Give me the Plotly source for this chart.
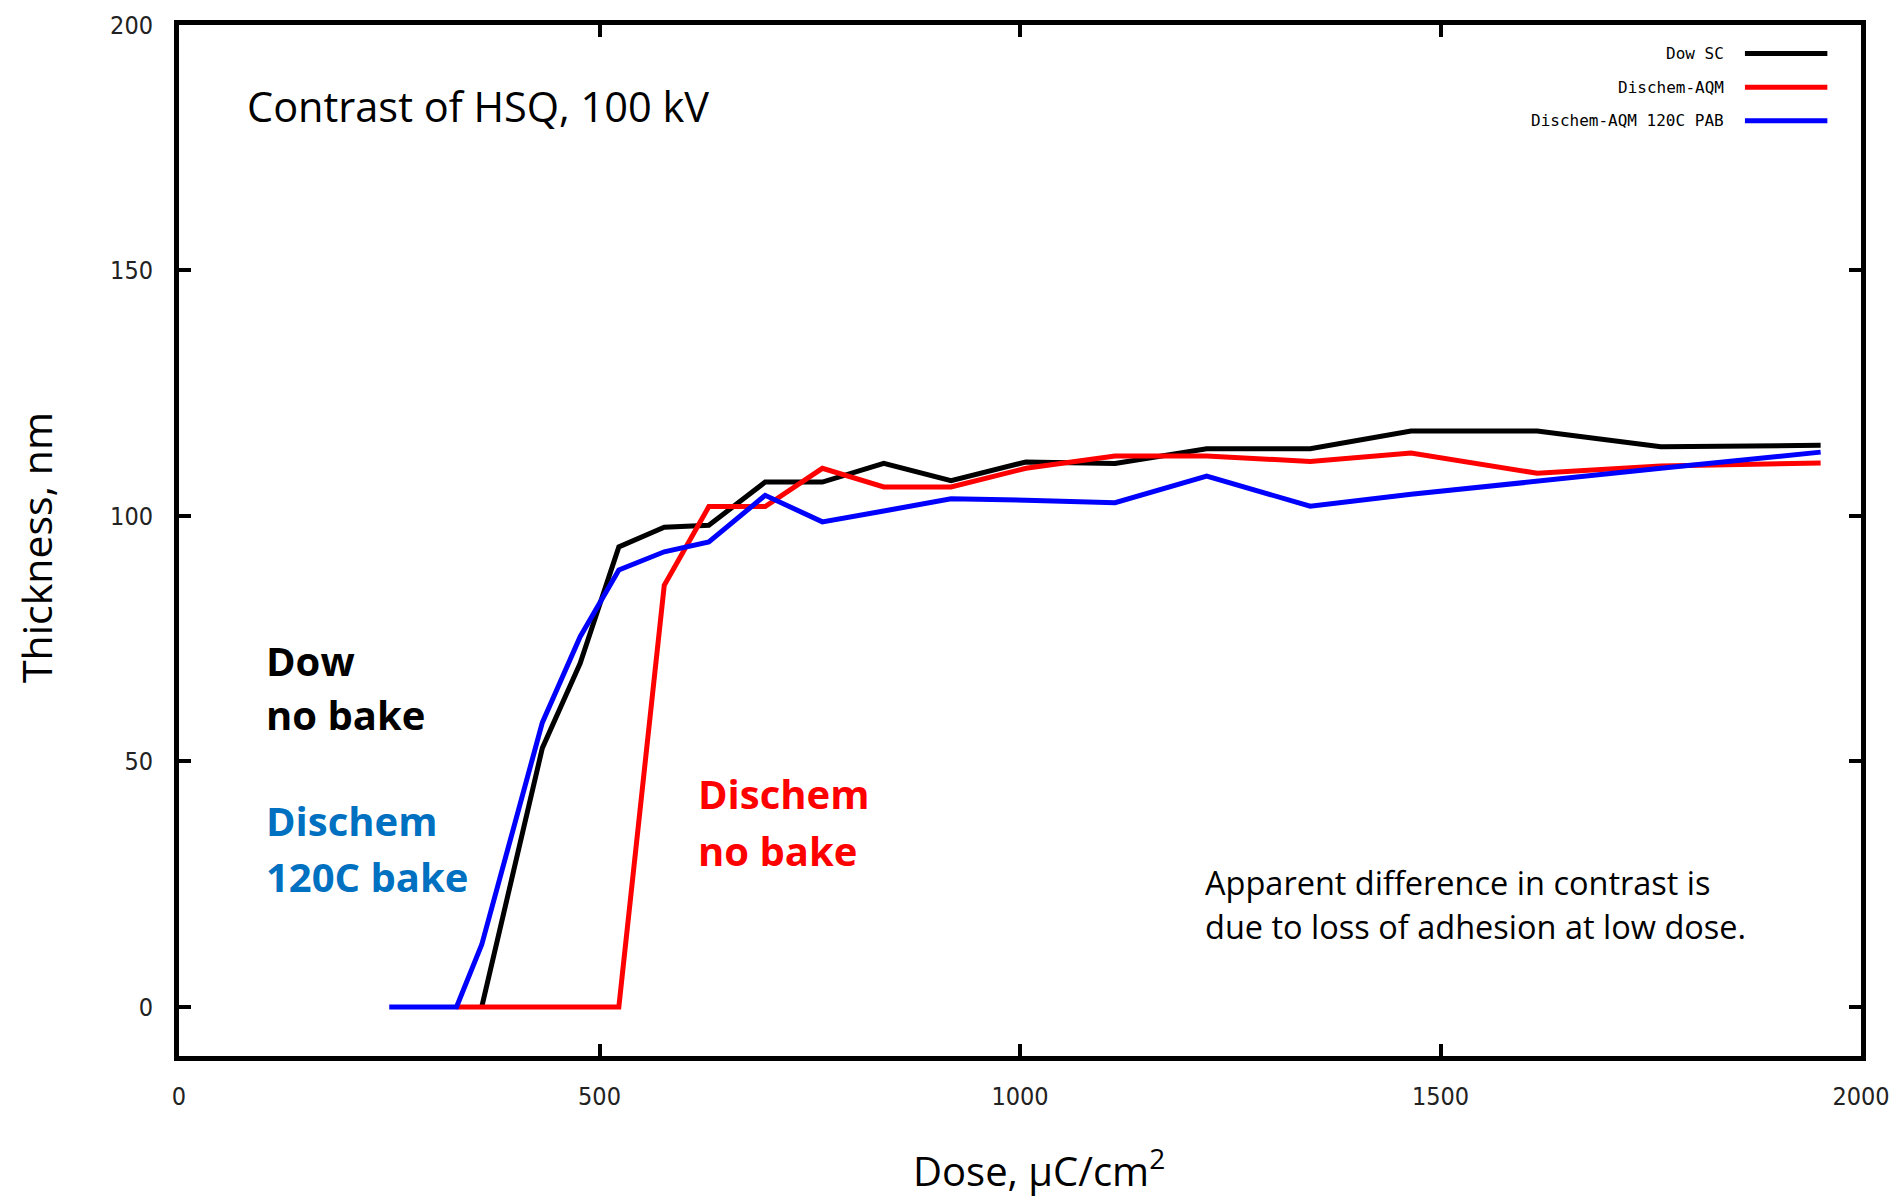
import plotly.graph_objects as go

# ---- data ----
dose_dow = [360, 432, 477, 523, 577, 630, 697, 765, 838, 918, 1007, 1113, 1222, 1345, 1465, 1615, 1762, 1952]
thick_dow = [0, 52.7, 70, 93.7, 97.7, 98.1, 106.9, 106.9, 110.7, 107.2, 111, 110.7, 113.7, 113.7, 117.3, 117.3, 114.1, 114.4]

dose_aqm = [330, 360, 432, 477, 523, 577, 630, 697, 765, 838, 918, 1007, 1113, 1222, 1345, 1465, 1615, 1762, 1952]
thick_aqm = [0, 0, 0, 0, 0, 85.9, 101.9, 101.9, 109.7, 105.9, 105.9, 109.7, 112.2, 112.2, 111.1, 112.8, 108.7, 110.2, 110.8]

dose_pab = [250, 330, 360, 432, 477, 523, 577, 630, 697, 765, 838, 918, 1007, 1113, 1222, 1345, 1465, 1615, 1762, 1952]
thick_pab = [0, 0, 12.7, 57.9, 75.4, 89, 92.7, 94.7, 104.2, 98.8, 101, 103.5, 103.2, 102.7, 108.1, 102, 104.4, 107.2, 109.7, 113]

series_names = ["Dow SC", "Dischem-AQM", "Dischem-AQM 120C PAB"]
series_colors = ["#000000", "#FF0000", "#0000FF"]

x_ticks = [0, 500, 1000, 1500, 2000]
y_ticks = [0, 50, 100, 150, 200]

TICK_FONT = "Liberation Sans Narrow, DejaVu Sans Condensed, Arial Narrow, sans-serif"
TEXT_FONT = "Open Sans, Noto Sans, sans-serif"
MONO_FONT = "DejaVu Sans Mono, Liberation Mono, monospace"

L, R, T, B = 179, 40, 25, 145
W, H = 1901, 1201
PW, PH = W - L - R, H - T - B

fig = go.Figure()
for xs, ys, name, col in zip([dose_dow, dose_aqm, dose_pab],
                             [thick_dow, thick_aqm, thick_pab],
                             series_names, series_colors):
    fig.add_trace(go.Scatter(x=xs, y=ys, mode="lines", name=name,
                             line=dict(color=col, width=5), showlegend=False))

axis_common = dict(
    showline=True, linecolor="black", linewidth=5, mirror="ticks",
    ticks="inside", ticklen=12, tickwidth=4, tickcolor="black",
    showgrid=False, zeroline=False,
    tickfont=dict(family=TICK_FONT, size=25, color="#222222"),
)

fig.update_layout(
    width=W, height=H,
    margin=dict(l=L, r=R, t=T, b=B),
    paper_bgcolor="white", plot_bgcolor="white",
    xaxis=dict(range=[0, 2000], tickvals=x_ticks, ticklabelstandoff=14, **axis_common),
    yaxis=dict(range=[-10, 200], tickvals=y_ticks, ticklabelstandoff=16, **axis_common),
    showlegend=False,
)

# ---- gnuplot-style legend (text on the left, line sample on the right) ----
legend_y = [194.2, 187.3, 180.5]
for name, col, yv in zip(series_names, series_colors, legend_y):
    fig.add_annotation(x=1840, y=yv, xref="x", yref="y", text=name, showarrow=False,
                       xanchor="right", yanchor="middle",
                       font=dict(family=MONO_FONT, size=16, color="black"))
    fig.add_shape(type="line", xref="x", yref="y", x0=1862, x1=1960, y0=yv, y1=yv,
                  line=dict(color=col, width=5))

# ---- text labels ----
def label(x, y, text, size, color="black", bold=False):
    fig.add_annotation(x=x, y=y, xref="x", yref="y", showarrow=False,
                       text=f"<b>{text}</b>" if bold else text,
                       xanchor="left", yanchor="middle",
                       font=dict(family=TEXT_FONT, size=size, color=color))

label(78, 183.5, "Contrast of HSQ, 100 kV", 41.5)
label(101, 70.6, "Dow", 40, bold=True)
label(101, 59.5, "no bake", 40, bold=True)
label(101, 38.0, "Dischem", 40, color="#0070C0", bold=True)
label(101, 26.5, "120C bake", 40, color="#0070C0", bold=True)
label(614.5, 43.4, "Dischem", 40, color="#FF0000", bold=True)
label(614.5, 31.8, "no bake", 40, color="#FF0000", bold=True)
label(1218, 25.3, "Apparent difference in contrast is", 32.5)
label(1218, 16.4, "due to loss of adhesion at low dose.", 32.5)

# axis titles
fig.add_annotation(x=(1039 - L) / PW, y=-(1168 - (H - B)) / PH, xref="paper", yref="paper",
                   xanchor="center", yanchor="middle", showarrow=False,
                   text="Dose, \u03bcC/cm<sup>2</sup>",
                   font=dict(family=TEXT_FONT, size=40, color="black"))
fig.add_annotation(x=-(L - 36) / PW, y=((H - B) - 548) / PH, xref="paper", yref="paper",
                   xanchor="center", yanchor="middle", showarrow=False, textangle=-90,
                   text="Thickness, nm",
                   font=dict(family=TEXT_FONT, size=41, color="black"))

fig.write_html("out.html")
